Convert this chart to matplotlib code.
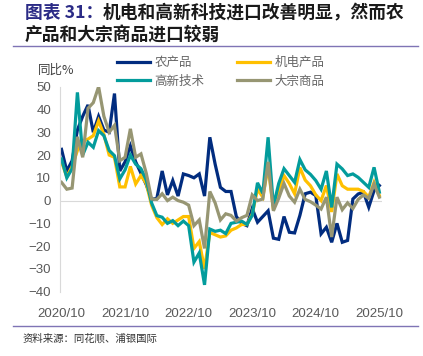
import matplotlib
matplotlib.use("Agg")
import matplotlib.pyplot as plt
from matplotlib.lines import Line2D

plt.rcParams['font.family'] = ['Noto Sans CJK SC', 'DejaVu Sans']

# =============================================================================
# data (monthly YoY %, 2020/10 .. 2025/10)
# =============================================================================
months = [f"{2020 + (m + 9) // 12}/{(m + 9) % 12 + 1:02d}" for m in range(61)]
tick_labels = ["2020/10", "2021/10", "2022/10", "2023/10", "2024/10", "2025/10"]

agri = [22.5, 13, 17.5, 31, 37, 42, 30, 37, 31, 30,
        47, 13, 17, 24, 17, 12, 7, 0.5, 1, 13,
        2.5, 8.8, 2, 11.7, 11, 10, 11.7, 2, 27.8, 16,
        5.8, 4, 4, -7, -10, -11, -3.5, -9.5, -7, -4.5,
        -16.5, -17, -7, -13.9, -14.2, -6.5, 3, 3.7, 2.2, -14.6,
        -11.7, -18.3, -10, -18.3, -17.5, 0.7, 2.9, 3.7, -2.9, 4.4,
        6.6]
mech = [17, 10.5, 15, 22, 26, 27, 28.5, 35, 29, 20,
        19, 6, 6, 15, 7.3, 11, 7.5, -2, -7.5, -10.5,
        -8, -10, -8.5, -7, -7, -21, -18, -30, -14, -15,
        -16, -15.5, -13, -12, -10.5, -10.5, -6, 5, 1.5, 15,
        -4, 4, 11, 7.5, 3, 14.5, 9, 6.5, 2.5, 0,
        6.6, -5, 11.7, 6.5, 5, 5, 5, 4, 1.5, 8,
        2.2]
hitech = [18.3, 10, 14, 47.5, 20, 25.6, 23.4, 30.7, 28.5, 22,
          19.7, 9.5, 13.5, 20, 16, 14, 9, -1, -6.6, -7.3,
          -10, -8.8, -11, -9, -11, -27, -23, -37, -12.5, -13.5,
          -13, -14.5, -10, -9.5, -9, -10.5, -6.5, 7.8, 3.2, 27.8,
          -2.5, 7.5, 14, 11, 8, 18, 13.5, 11.5, 8.8, 5,
          13, -3, 16, 13.9, 11, 11.7, 10.2, 8, 5.8, 14.6,
          3.7]
bulk = [8, 5, 5.5, 28, 19, 40.5, 43, 50, 37, 30,
        33, 17.5, 19, 31.5, 19, 20.5, 12, 0.7, 0.5, 3,
        0, 1.5, 0, -0.7, -2, -11, -8.5, -21, 4, -1,
        -8.5, -5.8, -6.5, -9, -7.5, -6.5, 2.5, 0, 0.7, 17,
        -4.5, 1, 7.5, 2, -0.7, 5, 0.5, -0.5, -2, -3.7,
        1.5, -16, 1.5, -4, -1, -3.5, 0.5, 2.5, 1, 7.3,
        1.5]

series = [("农产品", agri, "#012C7F"),
          ("机电产品", mech, "#FFC000"),
          ("高新技术", hitech, "#039C9C"),
          ("大宗商品", bulk, "#979673")]

W, H = 423, 356
fig = plt.figure(figsize=(W / 100, H / 100), dpi=100)

def px(x, y):
    return x / W, 1 - y / H

# title
fig.text(*px(25, 13), "图表 31：", fontsize=12.8, fontweight='bold',
         color="#2B2B86", va='center', ha='left')
fig.text(*px(103, 13), "机电和高新科技进口改善明显，然而农", fontsize=12.8,
         fontweight='bold', color="#1A1A1A", va='center', ha='left')
fig.text(*px(25, 36), "产品和大宗商品进口较弱", fontsize=12.8,
         fontweight='bold', color="#1A1A1A", va='center', ha='left')
fig.add_artist(Line2D([13 / W, 418 / W], [1 - 45.5 / H] * 2, color="#7F74B5", lw=1))
fig.add_artist(Line2D([13 / W, 418 / W], [1 - 326 / H] * 2, color="#7F74B5", lw=1))
fig.text(*px(23, 338), "资料来源：同花顺、浦银国际", fontsize=7.5,
         color="#333333", va='center', ha='left')

# main axes
x0, x1, ytop, ybot = 59.5, 382, 86.7, 291.7
ax = fig.add_axes([x0 / W, 1 - ybot / H, (x1 - x0) / W, (ybot - ytop) / H])
x = list(range(len(months)))
handles = {}
for name, vals, color in series:
    h, = ax.plot(x, vals, color=color, lw=2.3, label=name, solid_joinstyle='miter')
    handles[name] = h

ax.axhline(0, color="#D9D9D9", lw=0.8, zorder=0)
ax.set_xlim(-0.38, 60.5)
ax.set_ylim(-40, 50)
ax.set_yticks(range(-40, 51, 10))
ax.set_xticks([months.index(t) for t in tick_labels])
ax.set_xticklabels(tick_labels)
for s in ["top", "right", "bottom"]:
    ax.spines[s].set_visible(False)
ax.spines["left"].set_color("#D9D9D9")
ax.spines["left"].set_linewidth(0.8)
ax.tick_params(length=0, labelsize=9.5, labelcolor="#595959")
ax.tick_params(axis='x', pad=12)
ax.tick_params(axis='y', pad=6)
for lab in ax.get_xticklabels() + ax.get_yticklabels():
    lab.set_family(['Liberation Sans', 'DejaVu Sans'])

fig.text(*px(38, 70), "同比%", fontsize=9, color="#404040", va='center', ha='left')

order = ["农产品", "高新技术", "机电产品", "大宗商品"]
fig.legend([handles[n] for n in order], order, ncol=2, frameon=False,
           loc='upper left', bbox_to_anchor=px(112, 51), fontsize=9,
           labelcolor="#666666", handlelength=2.6, handletextpad=0.4,
           columnspacing=2.6, labelspacing=0.45, borderaxespad=0)

fig.savefig("out.png", dpi=100)
